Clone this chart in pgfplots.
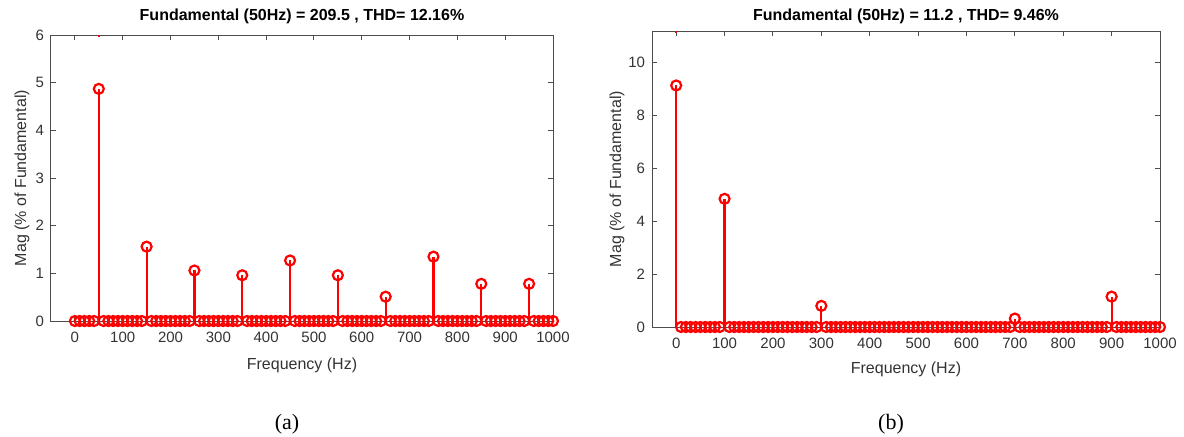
\documentclass[border=0pt]{standalone}
\usepackage{pgfplots}
\pgfplotsset{compat=1.18}
\usepackage{fontspec}
\setmainfont{Liberation Sans}
\newfontfamily\capfont{Liberation Serif}
\definecolor{axgray}{HTML}{4D4D4D}
\definecolor{txtgray}{HTML}{333333}

% common MATLAB-like look for both FFT panels
\pgfplotsset{fft/.style={
  scale only axis, xmin=-50, xmax=1000, ymin=0,
  xtick={0,100,...,1000},
  scaled ticks=false,
  /pgf/number format/1000 sep={},
  /pgf/number format/assume math mode=true,
  tick align=inside, major tick length=2.5pt,
  axis line style={axgray, line width=0.5pt},
  tick style={axgray, line width=0.5pt},
  tick label style={font=\fontsize{7.5}{8}\selectfont, text=txtgray},
  xticklabel style={yshift=-2pt},
  label style={font=\fontsize{8}{9}\selectfont, text=txtgray},
  title style={font=\bfseries\fontsize{8}{9}\selectfont, text=black,
    at={(axis description cs:0.5,1)}, anchor=center},
  xlabel={Frequency (Hz)},
  ylabel={Mag (\% of Fundamental)},
  stem/.style={red, ycomb, line width=1.1pt, mark=o, mark size=2.5pt, mark options={solid}},
  zeros/.style={red, only marks, line width=1.1pt, mark=o, mark size=2.5pt},
}}

\begin{document}
\begin{tikzpicture}
\useasboundingbox (0,0) rectangle (592pt,-218pt);

% ---------- (a) ----------
\begin{axis}[fft, at={(25.5pt,-160.5pt)}, anchor=south west,
  width=251pt, height=143pt, ymax=6, ytick={0,1,...,6},
  title={Fundamental (50Hz) = 209.5 , THD= 12.16\%},
  title style={yshift=3.5pt},
  xlabel style={at={(axis description cs:0.5,0)}, anchor=center, yshift=-22pt},
  ylabel style={at={(axis description cs:-0.058,0.5)}, anchor=center}]
\addplot[zeros] coordinates {
 (0,0) (10,0) (20,0) (30,0) (40,0)
 (60,0) (70,0) (80,0) (90,0) (100,0) (110,0) (120,0) (130,0) (140,0)
 (160,0) (170,0) (180,0) (190,0) (200,0) (210,0) (220,0) (230,0) (240,0)
 (260,0) (270,0) (280,0) (290,0) (300,0) (310,0) (320,0) (330,0) (340,0)
 (360,0) (370,0) (380,0) (390,0) (400,0) (410,0) (420,0) (430,0) (440,0)
 (460,0) (470,0) (480,0) (490,0) (500,0) (510,0) (520,0) (530,0) (540,0)
 (560,0) (570,0) (580,0) (590,0) (600,0) (610,0) (620,0) (630,0) (640,0)
 (660,0) (670,0) (680,0) (690,0) (700,0) (710,0) (720,0) (730,0) (740,0)
 (760,0) (770,0) (780,0) (790,0) (800,0) (810,0) (820,0) (830,0) (840,0)
 (860,0) (870,0) (880,0) (890,0) (900,0) (910,0) (920,0) (930,0) (940,0)
 (960,0) (970,0) (980,0) (990,0) (1000,0)};
\addplot[stem] coordinates {
 (50,4.87) (150,1.56) (250,1.06) (350,0.96) (450,1.27)
 (550,0.96) (650,0.51) (750,1.35) (850,0.78) (950,0.78)};
\addplot[red, line width=1pt] coordinates {(50,5.96) (50,6)};
\addplot[axgray, line width=0.5pt] coordinates {(-50,0) (1000,0)};
\end{axis}

% ---------- (b) ----------
\begin{axis}[fft, at={(326pt,-163.5pt)}, anchor=south west,
  width=254pt, height=148pt, ymax=11.2, ytick={0,2,...,10},
  title={Fundamental (50Hz) = 11.2 , THD= 9.46\%},
  title style={yshift=1.5pt},
  xlabel style={at={(axis description cs:0.5,0)}, anchor=center, yshift=-21pt},
  ylabel style={at={(axis description cs:-0.069,0.5)}, anchor=center}]
\addplot[zeros] coordinates {
 (10,0) (20,0) (30,0) (40,0) (50,0) (60,0) (70,0) (80,0) (90,0)
 (110,0) (120,0) (130,0) (140,0) (150,0) (160,0) (170,0) (180,0) (190,0) (200,0)
 (210,0) (220,0) (230,0) (240,0) (250,0) (260,0) (270,0) (280,0) (290,0)
 (310,0) (320,0) (330,0) (340,0) (350,0) (360,0) (370,0) (380,0) (390,0) (400,0)
 (410,0) (420,0) (430,0) (440,0) (450,0) (460,0) (470,0) (480,0) (490,0) (500,0)
 (510,0) (520,0) (530,0) (540,0) (550,0) (560,0) (570,0) (580,0) (590,0) (600,0)
 (610,0) (620,0) (630,0) (640,0) (650,0) (660,0) (670,0) (680,0) (690,0)
 (710,0) (720,0) (730,0) (740,0) (750,0) (760,0) (770,0) (780,0) (790,0) (800,0)
 (810,0) (820,0) (830,0) (840,0) (850,0) (860,0) (870,0) (880,0) (890,0)
 (910,0) (920,0) (930,0) (940,0) (950,0) (960,0) (970,0) (980,0) (990,0) (1000,0)};
\addplot[stem] coordinates {
 (0,9.14) (100,4.85) (300,0.80) (700,0.32) (900,1.15)};
\addplot[red, line width=1pt] coordinates {(0,11.13) (0,11.2)};
\addplot[axgray, line width=0.5pt] coordinates {(-50,0) (1000,0)};
\end{axis}

\node[font=\capfont\fontsize{11}{12}\selectfont] at (143.5pt,-212pt) {(a)};
\node[font=\capfont\fontsize{11}{12}\selectfont] at (445.5pt,-212pt) {(b)};
\end{tikzpicture}
\end{document}
